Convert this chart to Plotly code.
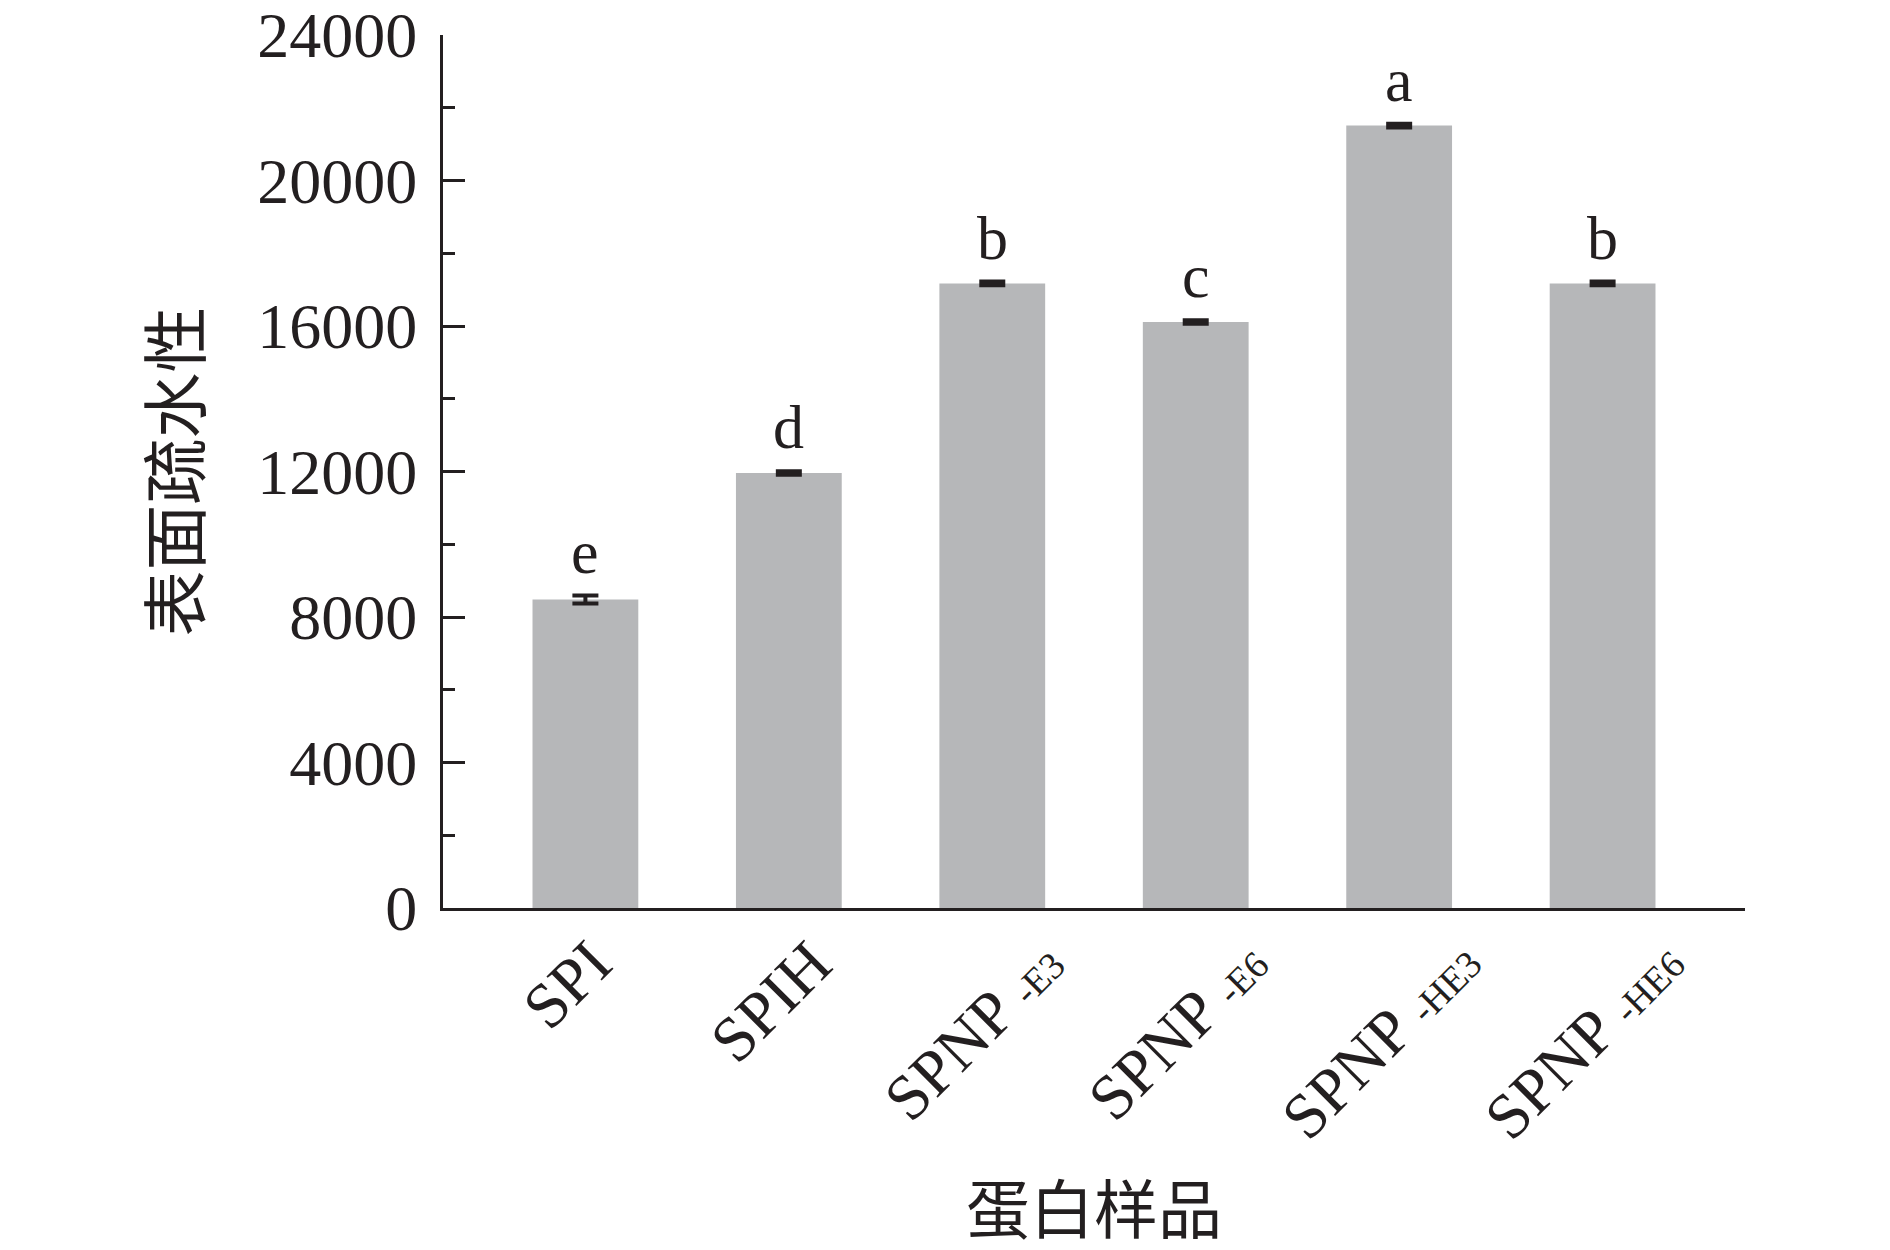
import plotly.graph_objects as go

labels_main = ["SPI", "SPIH", "SPNP", "SPNP", "SPNP", "SPNP"]
labels_sub = ["", "", "-E3", "-E6", "-HE3", "-HE6"]
values = [8480, 11960, 17170, 16110, 21510, 17170]
errors = [110, 50, 50, 50, 50, 50]
letters = ["e", "d", "b", "c", "a", "b"]

DARK = "#231f20"
SERIF = "Liberation Serif, Times New Roman, serif"
CJK = "Noto Sans CJK SC"

xs = list(range(len(labels_main)))

fig = go.Figure()
fig.add_trace(go.Bar(
    x=xs, y=values,
    marker=dict(color="#b6b7b9", line=dict(width=0)),
    width=0.52,
    error_y=dict(type="data", array=errors, visible=True, color=DARK, thickness=4, width=13),
))

# significance letters
for i, (v, e, l) in enumerate(zip(values, errors, letters)):
    fig.add_annotation(x=i, y=v + e, text=l, showarrow=False, yanchor="bottom", yshift=8,
                       font=dict(family=SERIF, size=62, color=DARK))

# rotated category labels (with small subscript part)
for i, (m, s) in enumerate(zip(labels_main, labels_sub)):
    txt = m if not s else m + " <span style='font-size:38px'>" + s + "</span>"
    fig.add_annotation(x=i, y=0, xref="x", yref="y", text=txt, showarrow=False,
                       textangle=-45, xanchor="center", yanchor="top",
                       xshift=-18, yshift=-16,
                       font=dict(family=SERIF, size=64, color=DARK))

# x-axis title
fig.add_annotation(x=0.5, y=0, xref="paper", yref="paper", text="蛋白样品", showarrow=False,
                   xanchor="center", yanchor="middle", yshift=-297,
                   font=dict(family=CJK, size=64, color=DARK))

fig.update_layout(
    width=1890, height=1250,
    margin=dict(l=435, r=153, t=27, b=350),
    plot_bgcolor="white", paper_bgcolor="white",
    showlegend=False,
)
fig.update_xaxes(
    range=[-0.7, 5.7], automargin=False,
    showticklabels=False, ticks="", showgrid=False, zeroline=False,
    showline=True, linewidth=3, linecolor=DARK,
)
fig.update_yaxes(
    range=[0, 24000], tickmode="linear", tick0=0, dtick=4000, tickformat="d",
    automargin=False, ticklabeloverflow="allow", ticklabelstandoff=10,
    ticks="inside", ticklen=22, tickwidth=3, tickcolor=DARK,
    minor=dict(ticks="inside", ticklen=12, tickwidth=3, tickcolor=DARK, dtick=2000),
    showgrid=False, zeroline=False,
    showline=True, linewidth=3, linecolor=DARK,
    tickfont=dict(family=SERIF, size=64, color=DARK),
    title=dict(text="表面疏水性", font=dict(family=CJK, size=66, color=DARK), standoff=36),
)

fig.write_html("out.html")
